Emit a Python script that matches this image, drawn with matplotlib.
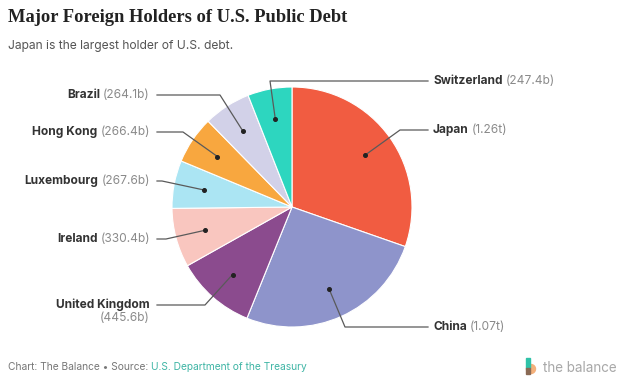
import numpy as np
import matplotlib
matplotlib.use("Agg")
import matplotlib.pyplot as plt

# holdings, clockwise from 12 o'clock
countries = ["Japan", "China", "United Kingdom", "Ireland", "Luxembourg",
             "Hong Kong", "Brazil", "Switzerland"]
holdings = [1260, 1070, 445.6, 330.4, 267.6, 266.4, 264.1, 247.4]  # billions
value_labels = ["(1.26t)", "(1.07t)", "(445.6b)", "(330.4b)", "(267.6b)",
                "(266.4b)", "(264.1b)", "(247.4b)"]
colors = ["#F15C41", "#8E94CB", "#8B4B8E", "#F9C6BF", "#ABE5F3",
          "#F8A73F", "#D2D1E8", "#2DD6BF"]

W, H = 625, 385
fig = plt.figure(figsize=(W / 100, H / 100), dpi=100)
ax = fig.add_axes([0, 0, 1, 1])


def py(y):
    # image row -> axes y
    return H - y


cx, cy, R = 292, py(207), 120
wedges, _ = ax.pie(holdings, colors=colors, startangle=90, counterclock=False,
                   center=(cx, cy), radius=R, frame=True,
                   wedgeprops=dict(edgecolor="white", linewidth=0.8))
ax.set_xlim(0, W)
ax.set_ylim(0, H)
ax.set_aspect("equal")
ax.axis("off")

# leader layout: (elbow x, elbow y, end x, label side)
layout = {
    "Japan": (400, 130, 428, "r"),
    "China": (345, 327, 428, "r"),
    "United Kingdom": (205, 305, 157, "l"),
    "Ireland": (166, 239, 157, "l"),
    "Luxembourg": (162, 181, 157, "l"),
    "Hong Kong": (183, 132, 157, "l"),
    "Brazil": (220, 95, 157, "l"),
    "Switzerland": (270, 81, 428, "r"),
}

lab_font = "Inter"
fs = 8.6
fig.canvas.draw()
rend = fig.canvas.get_renderer()

for w, name, val in zip(wedges, countries, value_labels):
    mid = np.deg2rad((w.theta1 + w.theta2) / 2)
    dx, dy = cx + 0.75 * R * np.cos(mid), cy + 0.75 * R * np.sin(mid)
    ex, ey, endx, side = layout[name]
    ey = py(ey)
    ax.plot([dx, ex, endx], [dy, ey, ey], color="#5a5a5a", lw=0.9, zorder=5)
    ax.plot(dx, dy, "o", color="#222222", ms=2.6, zorder=6)

    if side == "r":
        tx = endx + 5
        t = ax.text(tx, ey, name, ha="left", va="center", fontsize=fs,
                    fontweight="bold", color="#333333", family=lab_font)
        bb = t.get_window_extent(rend)
        ax.text(bb.x1 + 3, ey, val, ha="left", va="center", fontsize=fs,
                color="#8a8a8a", family=lab_font)
    else:
        tx = endx - 7
        if name == "United Kingdom":
            ax.text(tx, ey, name, ha="right", va="center", fontsize=fs,
                    fontweight="bold", color="#333333", family=lab_font)
            ax.text(tx, ey - 13, val, ha="right", va="center", fontsize=fs,
                    color="#8a8a8a", family=lab_font)
        else:
            v = ax.text(tx, ey, val, ha="right", va="center", fontsize=fs,
                        color="#8a8a8a", family=lab_font)
            bb = v.get_window_extent(rend)
            ax.text(bb.x0 - 3, ey, name, ha="right", va="center", fontsize=fs,
                    fontweight="bold", color="#333333", family=lab_font)

# titles
ax.text(8, py(18), "Major Foreign Holders of U.S. Public Debt", ha="left",
        va="center", fontsize=13.3, color="#222222", family="Liberation Serif",
        fontweight="bold")
ax.text(8, py(46), "Japan is the largest holder of U.S. debt.", ha="left",
        va="center", fontsize=8.7, color="#555555", family=lab_font)

# footer
f1 = ax.text(8, py(367), "Chart: The Balance \u2022 Source: ", ha="left",
             va="center", fontsize=7.35, color="#777777", family=lab_font)
bb = f1.get_window_extent(rend)
ax.text(bb.x1, py(367), "U.S. Department of the Treasury", ha="left",
        va="center", fontsize=7.35, color="#3FB5A5", family=lab_font)

# logo
ax.add_patch(plt.Rectangle((526, py(368)), 3.5, 10, color="#2FC2A8", zorder=3))
ax.add_patch(plt.Circle((531, py(369)), 4.5, color="#F4B07A", zorder=2))
ax.add_patch(plt.Rectangle((526, py(374)), 3.5, 6, color="#8a6a55", zorder=3))
ax.text(543, py(368), "the balance", ha="left", va="center", fontsize=9.7,
        color="#a8a8a8", family=lab_font)

fig.savefig("out.png", dpi=100, facecolor="white")
